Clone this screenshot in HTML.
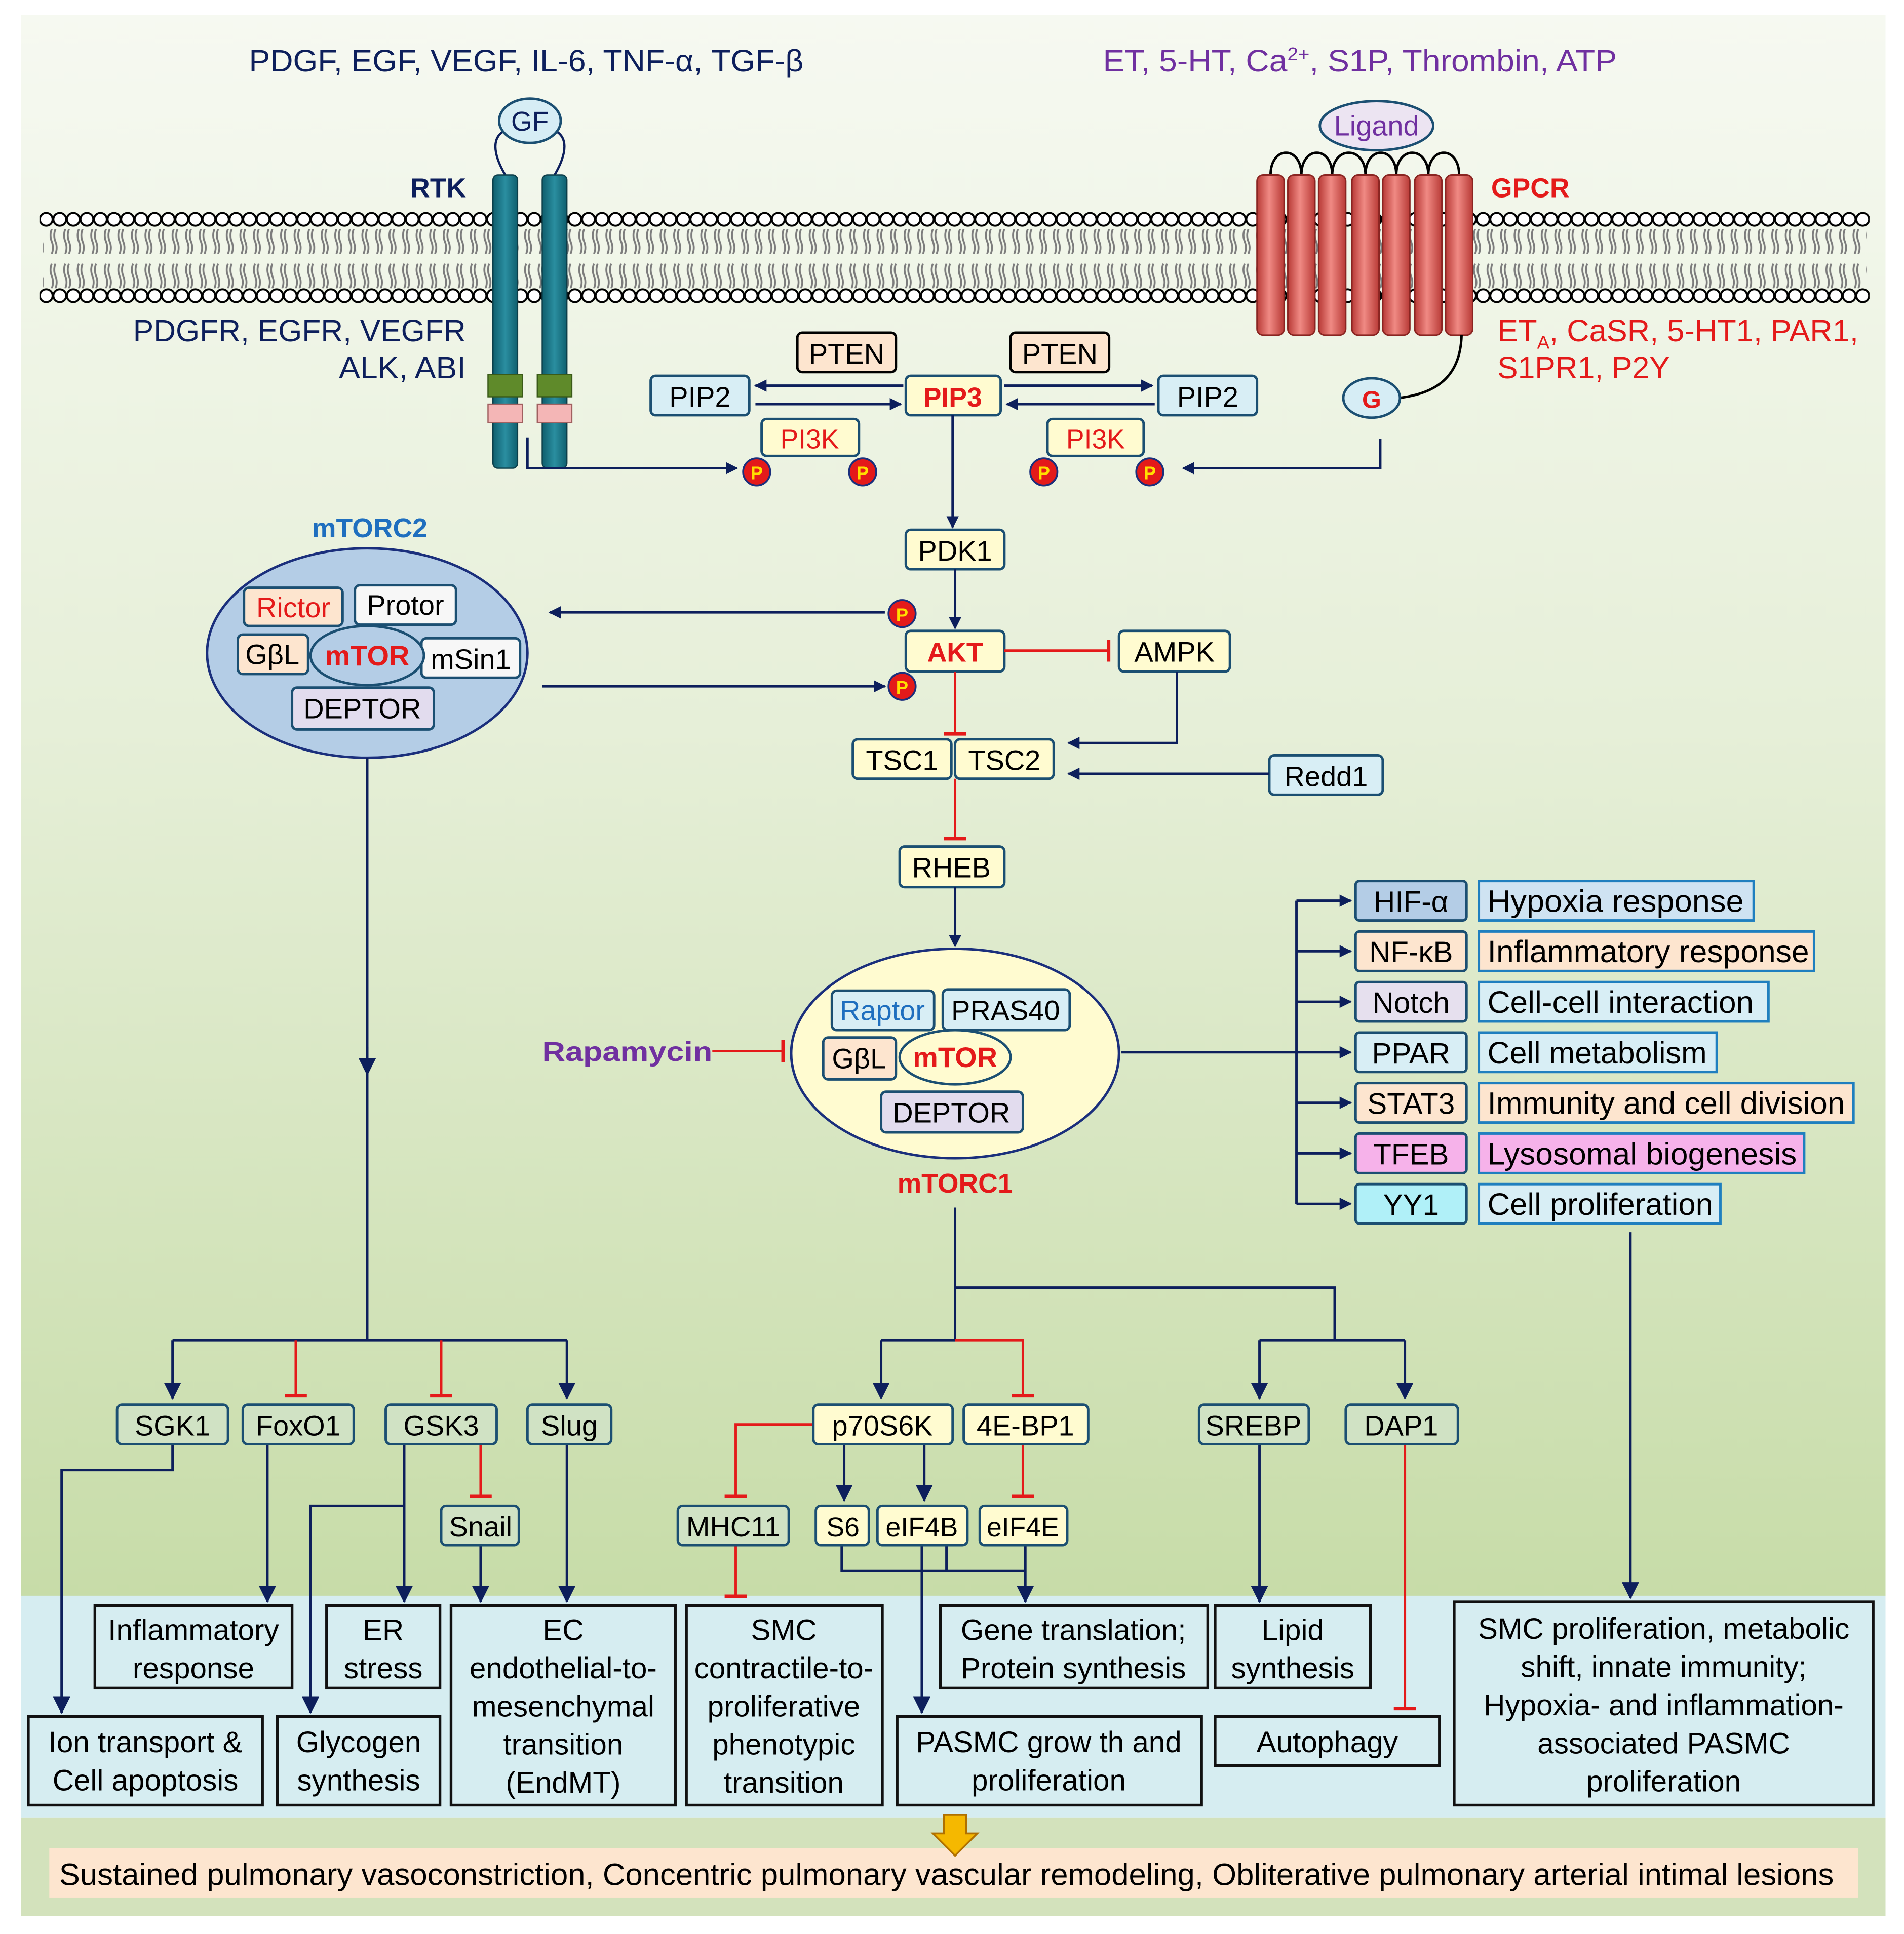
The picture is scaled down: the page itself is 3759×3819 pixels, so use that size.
<!DOCTYPE html>
<html><head><meta charset="utf-8"><style>html,body{margin:0;padding:0;background:#fff}svg{display:block}</style></head>
<body>
<svg xmlns="http://www.w3.org/2000/svg" width="3759" height="3819" viewBox="0 0 1545 1569.6" preserveAspectRatio="none" font-family="Liberation Sans, Arial, sans-serif">
<defs>
<linearGradient id="bg" x1="0" y1="0" x2="0" y2="1">
<stop offset="0" stop-color="#f6f9f1"/><stop offset="0.45" stop-color="#e6efd8"/><stop offset="1" stop-color="#c7dca8"/></linearGradient>
<linearGradient id="cyl" x1="0" y1="0" x2="1" y2="0">
<stop offset="0" stop-color="#b83a36"/><stop offset="0.45" stop-color="#f08a84"/><stop offset="1" stop-color="#b83a36"/></linearGradient>
<linearGradient id="rtk" x1="0" y1="0" x2="1" y2="0">
<stop offset="0" stop-color="#0f5f6e"/><stop offset="0.5" stop-color="#2a8ea0"/><stop offset="1" stop-color="#0f5f6e"/></linearGradient>
<marker id="a" markerWidth="10" markerHeight="10" refX="9" refY="5" orient="auto" markerUnits="userSpaceOnUse" viewBox="0 0 10 10"><path d="M0,0 L10,5 L0,10 z" fill="#0d1f5c"/></marker>
<marker id="ab" markerWidth="14" markerHeight="14" refX="13" refY="7" orient="auto" markerUnits="userSpaceOnUse" viewBox="0 0 14 14"><path d="M0,0 L14,7 L0,14 z" fill="#0d1f5c"/></marker>
<marker id="t" markerWidth="4" markerHeight="18" refX="2" refY="9" orient="auto" markerUnits="userSpaceOnUse" viewBox="0 0 4 18"><rect x="0" y="0" width="3" height="18" fill="#e41a1a"/></marker>
<pattern id="tailpat" x="38" y="186" width="11" height="48" patternUnits="userSpaceOnUse">
<path d="M4,0 q-2,5 0,10 q2,5 0,10 M7,0 q-2,5 0,10 q2,5 0,10 M4,28 q-2,5 0,10 q2,5 0,10 M7,28 q-2,5 0,10 q2,5 0,10" stroke="#7c7c7c" stroke-width="1.5" fill="none"/>
</pattern>
<pattern id="toprow" x="32" y="171" width="11" height="14" patternUnits="userSpaceOnUse">
<circle cx="5.5" cy="7" r="5.2" fill="#fff" stroke="#000" stroke-width="1.6"/>
</pattern>
<pattern id="botrow" x="32" y="233" width="11" height="14" patternUnits="userSpaceOnUse">
<circle cx="5.5" cy="7" r="5.2" fill="#fff" stroke="#000" stroke-width="1.6"/>
</pattern>
</defs>
<rect width="1545" height="1570" fill="#fff"/>
<rect x="17" y="12" width="1513" height="1285" fill="url(#bg)"/>
<rect x="17" y="1295" width="1513" height="180" fill="#d6edf1"/>
<rect x="17" y="1475" width="1513" height="80" fill="#d3e2bc"/>
<rect x="40" y="1500" width="1468" height="40" fill="#fde5cf"/>

<rect x="35" y="186" width="1480" height="48" fill="url(#tailpat)"/>
<rect x="32" y="171" width="1485" height="14" fill="url(#toprow)"/>
<rect x="32" y="233" width="1485" height="14" fill="url(#botrow)"/>

<text x="202" y="58" font-size="25" fill="#0d1f5c" textLength="450" lengthAdjust="spacingAndGlyphs">PDGF,  EGF,  VEGF, IL-6, TNF-α,  TGF-β</text>
<text x="895" y="58" font-size="25" fill="#7030a0" textLength="417" lengthAdjust="spacingAndGlyphs">ET,  5-HT, Ca<tspan font-size="15" dy="-9">2+</tspan><tspan dy="9">, S1P, Thrombin,  ATP</tspan></text>

<!-- RTK -->
<path d="M410,142 C400,125 398,110 412,105 M450,142 C460,125 462,110 448,105" stroke="#0d1f5c" stroke-width="1.8" fill="none"/>
<ellipse cx="430" cy="98" rx="25" ry="18" fill="#d6edf5" stroke="#1b4f72" stroke-width="2"/>
<text x="430" y="106" font-size="22" text-anchor="middle" fill="#0d1f5c">GF</text>
<rect x="400" y="142" width="20" height="238" rx="4" fill="url(#rtk)" stroke="#0d3f4a"/>
<rect x="440" y="142" width="20" height="238" rx="4" fill="url(#rtk)" stroke="#0d3f4a"/>
<rect x="396" y="304" width="28" height="18" fill="#5f8a2a" stroke="#3a5a18"/>
<rect x="436" y="304" width="28" height="18" fill="#5f8a2a" stroke="#3a5a18"/>
<rect x="396" y="328" width="28" height="15" fill="#f4b6b6" stroke="#a06060"/>
<rect x="436" y="328" width="28" height="15" fill="#f4b6b6" stroke="#a06060"/>
<text x="333" y="160" font-size="22" font-weight="bold" fill="#0d1f5c">RTK</text>
<text x="108" y="277" font-size="25" fill="#0d1f5c" textLength="270" lengthAdjust="spacingAndGlyphs">PDGFR,  EGFR,  VEGFR</text>
<text x="275" y="307" font-size="25" fill="#0d1f5c" textLength="103" lengthAdjust="spacingAndGlyphs">ALK, ABI</text>

<!-- GPCR -->
<path d="M1031,142 C1031,118 1056,118 1056,142 M1056,142 C1056,118 1081,118 1081,142 M1081,142 C1081,118 1108,118 1108,142 M1108,142 C1108,118 1133,118 1133,142 M1133,142 C1133,118 1159,118 1159,142 M1159,142 C1159,118 1184,118 1184,142" stroke="#000" stroke-width="2" fill="none"/>
<g fill="url(#cyl)" stroke="#8a2522" stroke-width="1.2">
<rect x="1020" y="142" width="22" height="130" rx="5"/>
<rect x="1045" y="142" width="22" height="130" rx="5"/>
<rect x="1070" y="142" width="22" height="130" rx="5"/>
<rect x="1097" y="142" width="22" height="130" rx="5"/>
<rect x="1122" y="142" width="22" height="130" rx="5"/>
<rect x="1148" y="142" width="22" height="130" rx="5"/>
<rect x="1173" y="142" width="22" height="130" rx="5"/>
</g>
<ellipse cx="1117" cy="102" rx="46" ry="20" fill="#ece4f2" stroke="#1b4f72" stroke-width="2"/>
<text x="1117" y="110" font-size="23" text-anchor="middle" fill="#7030a0">Ligand</text>
<text x="1210" y="160" font-size="22" font-weight="bold" fill="#e41a1a">GPCR</text>
<text x="1215" y="277" font-size="25" fill="#e41a1a" textLength="293" lengthAdjust="spacingAndGlyphs">ET<tspan font-size="15" dy="6">A</tspan><tspan dy="-6">,  CaSR,  5-HT1,  PAR1,</tspan></text>
<text x="1215" y="307" font-size="25" fill="#e41a1a" textLength="140" lengthAdjust="spacingAndGlyphs">S1PR1,  P2Y</text>
<path d="M1135,323 C1160,320 1185,310 1186,272" stroke="#000" stroke-width="2" fill="none"/>
<ellipse cx="1113" cy="323" rx="23" ry="16" fill="#d6edf5" stroke="#1b4f72" stroke-width="2"/>
<text x="1113" y="331" font-size="20" font-weight="bold" text-anchor="middle" fill="#e41a1a">G</text>

<g stroke="#1b4f72" stroke-width="2">
<rect x="647" y="270" width="80" height="32" rx="4" fill="#fde5cf" stroke="#000"/>
<rect x="820" y="270" width="80" height="32" rx="4" fill="#fde5cf" stroke="#000"/>
<rect x="528" y="305" width="80" height="32" rx="4" fill="#d8eef5"/>
<rect x="940" y="305" width="80" height="32" rx="4" fill="#d8eef5"/>
<rect x="735" y="305" width="77" height="32" rx="4" fill="#fffbd0"/>
<rect x="618" y="340" width="79" height="30" rx="4" fill="#fffbd0"/>
<rect x="850" y="340" width="78" height="30" rx="4" fill="#fffbd0"/>
<rect x="735" y="430" width="80" height="32" rx="4" fill="#fffbd0"/>
<rect x="735" y="512" width="80" height="33" rx="4" fill="#fffbd0"/>
<rect x="908" y="512" width="90" height="33" rx="4" fill="#fffbd0"/>
<rect x="692" y="600" width="80" height="32" rx="4" fill="#fffbd0"/>
<rect x="775" y="600" width="80" height="32" rx="4" fill="#fffbd0"/>
<rect x="1030" y="613" width="92" height="32" rx="4" fill="#d8eef5"/>
<rect x="730" y="687" width="85" height="33" rx="4" fill="#fffbd0"/>
</g>
<g font-size="23" fill="#000" text-anchor="middle">
<text x="687" y="295">PTEN</text><text x="860" y="295">PTEN</text>
<text x="568" y="330">PIP2</text><text x="980" y="330">PIP2</text>
<text x="773" y="330" fill="#e41a1a" font-weight="bold" font-size="22">PIP3</text>
<text x="657" y="364" fill="#e41a1a" font-size="22">PI3K</text><text x="889" y="364" fill="#e41a1a" font-size="22">PI3K</text>
<text x="775" y="455">PDK1</text>
<text x="775" y="537" fill="#e41a1a" font-weight="bold" font-size="22">AKT</text>
<text x="953" y="537">AMPK</text>
<text x="732" y="625">TSC1</text><text x="815" y="625">TSC2</text>
<text x="1076" y="638">Redd1</text>
<text x="772" y="712">RHEB</text>
</g>
<g fill="#e41a1a" stroke="#1b2f7c" stroke-width="1.5">
<circle cx="614" cy="383" r="11"/><circle cx="700" cy="383" r="11"/><circle cx="847" cy="383" r="11"/><circle cx="933" cy="383" r="11"/><circle cx="732" cy="498" r="11"/><circle cx="732" cy="557" r="11"/>
</g>
<g fill="#ffe000" font-size="15" font-weight="bold" text-anchor="middle">
<text x="614" y="389">P</text><text x="700" y="389">P</text><text x="847" y="389">P</text><text x="933" y="389">P</text><text x="732" y="504">P</text><text x="732" y="563">P</text>
</g>

<g stroke="#0d1f5c" stroke-width="2" fill="none">
<path d="M733,313 H613" marker-end="url(#a)"/>
<path d="M613,328 H731" marker-end="url(#a)"/>
<path d="M815,313 H935" marker-end="url(#a)"/>
<path d="M937,328 H817" marker-end="url(#a)"/>
<path d="M428,355 V380 H598" marker-end="url(#a)"/>
<path d="M1120,356 V380 H960" marker-end="url(#a)"/>
<path d="M773,337 V428" marker-end="url(#a)"/>
<path d="M775,462 V510" marker-end="url(#a)"/>
<path d="M955,545 V603 H867" marker-end="url(#a)"/>
<path d="M1030,628 H867" marker-end="url(#a)"/>
<path d="M775,720 V768" marker-end="url(#a)"/>
<path d="M718,497 H446" marker-end="url(#a)"/>
<path d="M440,557 H718" marker-end="url(#a)"/>
</g>
<g stroke="#e41a1a" stroke-width="2" fill="none">
<path d="M815,528 H900" marker-end="url(#t)"/>
<path d="M775,545 V596" marker-end="url(#t)"/>
<path d="M775,632 V681" marker-end="url(#t)"/>
<path d="M578,853 H636" marker-end="url(#t)"/>
</g>

<text x="300" y="436" font-size="22" font-weight="bold" fill="#1f6fbf" text-anchor="middle">mTORC2</text>
<ellipse cx="298" cy="530" rx="130" ry="85" fill="#b4cde6" stroke="#1b2f7c" stroke-width="2"/>
<g stroke="#1b4f72" stroke-width="2">
<rect x="198" y="477" width="80" height="31" rx="4" fill="#fde5cf"/>
<rect x="288" y="475" width="82" height="32" rx="4" fill="#f7f7f7"/>
<rect x="193" y="515" width="57" height="32" rx="4" fill="#fde5cf"/>
<rect x="342" y="518" width="80" height="32" rx="4" fill="#f7f7f7"/>
<rect x="237" y="558" width="115" height="34" rx="4" fill="#e2dcee"/>
<ellipse cx="298" cy="532" rx="46" ry="24" fill="#b4cde6"/>
</g>
<g font-size="23" text-anchor="middle">
<text x="238" y="501" fill="#e41a1a">Rictor</text>
<text x="329" y="499">Protor</text>
<text x="221" y="539">GβL</text>
<text x="382" y="543">mSin1</text>
<text x="294" y="583">DEPTOR</text>
<text x="298" y="540" fill="#e41a1a" font-weight="bold" font-size="23">mTOR</text>
</g>

<ellipse cx="775" cy="855" rx="133" ry="85" fill="#fffbd0" stroke="#1b2f7c" stroke-width="2"/>
<g stroke="#1b4f72" stroke-width="2">
<rect x="675" y="804" width="83" height="32" rx="4" fill="#d8eef5"/>
<rect x="765" y="803" width="103" height="33" rx="4" fill="#d8eef5"/>
<rect x="668" y="842" width="59" height="34" rx="4" fill="#fde5cf"/>
<rect x="715" y="886" width="115" height="33" rx="4" fill="#e2dcee"/>
<ellipse cx="775" cy="858" rx="45" ry="22" fill="#fffbd0"/>
</g>
<g font-size="23" text-anchor="middle">
<text x="716" y="828" fill="#1f6fbf">Raptor</text>
<text x="816" y="828">PRAS40</text>
<text x="697" y="867">GβL</text>
<text x="772" y="911">DEPTOR</text>
<text x="775" y="866" fill="#e41a1a" font-weight="bold" font-size="23">mTOR</text>
</g>
<text x="775" y="968" font-size="22" font-weight="bold" fill="#e41a1a" text-anchor="middle">mTORC1</text>
<text x="440" y="861" font-size="22" font-weight="bold" fill="#7030a0" textLength="138" lengthAdjust="spacingAndGlyphs">Rapamycin</text>

<g stroke="#0d1f5c" stroke-width="2" fill="none">
<path d="M910,854 H1096" marker-end="url(#a)"/>
<path d="M1052,731 V977"/>
<path d="M1052,731 H1096" marker-end="url(#a)"/>
<path d="M1052,772 H1096" marker-end="url(#a)"/>
<path d="M1052,813 H1096" marker-end="url(#a)"/>
<path d="M1052,895 H1096" marker-end="url(#a)"/>
<path d="M1052,936 H1096" marker-end="url(#a)"/>
<path d="M1052,977 H1096" marker-end="url(#a)"/>
</g>
<g stroke="#1f7fbf" stroke-width="2">
<rect x="1100" y="715" width="90" height="32" rx="3" fill="#b4cde6" stroke="#1b4f72"/>
<rect x="1100" y="756" width="90" height="32" rx="3" fill="#fde5cf" stroke="#1b4f72"/>
<rect x="1100" y="797" width="90" height="32" rx="3" fill="#e6e0ee" stroke="#1b4f72"/>
<rect x="1100" y="838" width="90" height="32" rx="3" fill="#d8eef5" stroke="#1b4f72"/>
<rect x="1100" y="879" width="90" height="32" rx="3" fill="#fde5cf" stroke="#1b4f72"/>
<rect x="1100" y="920" width="90" height="32" rx="3" fill="#f6b2ea" stroke="#1b4f72"/>
<rect x="1100" y="961" width="90" height="32" rx="3" fill="#b0f0f8" stroke="#1b4f72"/>
<rect x="1200" y="715" width="223" height="32" fill="#cfe3f2"/>
<rect x="1200" y="756" width="272" height="32" fill="#fde5cf"/>
<rect x="1200" y="797" width="235" height="32" fill="#d8eef5"/>
<rect x="1200" y="838" width="193" height="32" fill="#d8eef5"/>
<rect x="1200" y="879" width="304" height="32" fill="#fde5cf"/>
<rect x="1200" y="920" width="264" height="32" fill="#f6b2ea"/>
<rect x="1200" y="961" width="196" height="32" fill="#d8eef5"/>
</g>
<g font-size="25">
<g text-anchor="middle" font-size="24">
<text x="1145" y="740">HIF-α</text><text x="1145" y="781">NF-κB</text><text x="1145" y="822">Notch</text><text x="1145" y="863">PPAR</text><text x="1145" y="904">STAT3</text><text x="1145" y="945">TFEB</text><text x="1145" y="986">YY1</text>
</g>
<text x="1207" y="740" textLength="208" lengthAdjust="spacingAndGlyphs">Hypoxia response</text>
<text x="1207" y="781" textLength="261" lengthAdjust="spacingAndGlyphs">Inflammatory  response</text>
<text x="1207" y="822" textLength="216" lengthAdjust="spacingAndGlyphs">Cell-cell interaction</text>
<text x="1207" y="863" textLength="178" lengthAdjust="spacingAndGlyphs">Cell metabolism</text>
<text x="1207" y="904" textLength="290" lengthAdjust="spacingAndGlyphs">Immunity  and cell division</text>
<text x="1207" y="945" textLength="251" lengthAdjust="spacingAndGlyphs">Lysosomal biogenesis</text>
<text x="1207" y="986" textLength="183" lengthAdjust="spacingAndGlyphs">Cell proliferation</text>
</g>

<g stroke="#0d1f5c" stroke-width="2" fill="none">
<path d="M298,615 V1088"/>
<path d="M298,850 V872" marker-end="url(#ab)"/>
<path d="M140,1088 H460"/>
<path d="M140,1088 V1135" marker-end="url(#ab)"/>
<path d="M460,1088 V1135" marker-end="url(#ab)"/>
<path d="M775,980 V1088"/>
<path d="M775,1045 H1083 V1088"/>
<path d="M715,1088 H775"/>
<path d="M715,1088 V1135" marker-end="url(#ab)"/>
<path d="M1022,1088 H1140"/>
<path d="M1022,1088 V1135" marker-end="url(#ab)"/>
<path d="M1140,1088 V1135" marker-end="url(#ab)"/>
<path d="M140,1172 V1193 H50 V1390" marker-end="url(#ab)"/>
<path d="M217,1172 V1300" marker-end="url(#ab)"/>
<path d="M328,1172 V1300" marker-end="url(#ab)"/>
<path d="M328,1222 H252 V1390" marker-end="url(#ab)"/>
<path d="M390,1254 V1300" marker-end="url(#ab)"/>
<path d="M460,1172 V1300" marker-end="url(#ab)"/>
<path d="M685,1172 V1218" marker-end="url(#ab)"/>
<path d="M750,1172 V1218" marker-end="url(#ab)"/>
<path d="M683,1254 V1275 H832"/>
<path d="M768,1254 V1275"/>
<path d="M832,1254 V1300" marker-end="url(#ab)"/>
<path d="M748,1254 V1390" marker-end="url(#ab)"/>
<path d="M1022,1172 V1300" marker-end="url(#ab)"/>
<path d="M1323,1000 V1297" marker-end="url(#ab)"/>
</g>
<g stroke="#e41a1a" stroke-width="2" fill="none">
<path d="M240,1088 V1133" marker-end="url(#t)"/>
<path d="M358,1088 V1133" marker-end="url(#t)"/>
<path d="M775,1088 H830 V1133" marker-end="url(#t)"/>
<path d="M390,1172 V1215" marker-end="url(#t)"/>
<path d="M660,1156 H597 V1215" marker-end="url(#t)"/>
<path d="M597,1254 V1296" marker-end="url(#t)"/>
<path d="M830,1172 V1215" marker-end="url(#t)"/>
<path d="M1140,1172 V1387" marker-end="url(#t)"/>
</g>

<g stroke="#1b4f72" stroke-width="2">
<rect x="95" y="1140" width="90" height="32" rx="4" fill="#d0e2c4"/>
<rect x="197" y="1140" width="90" height="32" rx="4" fill="#d0e2c4"/>
<rect x="313" y="1140" width="90" height="32" rx="4" fill="#d0e2c4"/>
<rect x="428" y="1140" width="68" height="32" rx="4" fill="#d0e2c4"/>
<rect x="358" y="1222" width="63" height="32" rx="4" fill="#d0e2c4"/>
<rect x="660" y="1140" width="113" height="32" rx="4" fill="#fffbd0"/>
<rect x="782" y="1140" width="101" height="32" rx="4" fill="#fffbd0"/>
<rect x="973" y="1140" width="89" height="32" rx="4" fill="#d0e2c4"/>
<rect x="1092" y="1140" width="91" height="32" rx="4" fill="#d0e2c4"/>
<rect x="550" y="1222" width="90" height="32" rx="4" fill="#d0e2c4"/>
<rect x="662" y="1222" width="43" height="32" rx="4" fill="#fffbd0"/>
<rect x="712" y="1222" width="73" height="32" rx="4" fill="#fffbd0"/>
<rect x="795" y="1222" width="71" height="32" rx="4" fill="#fffbd0"/>
</g>
<g font-size="23" text-anchor="middle">
<text x="140" y="1165">SGK1</text><text x="242" y="1165">FoxO1</text><text x="358" y="1165">GSK3</text><text x="462" y="1165">Slug</text>
<text x="390" y="1247">Snail</text>
<text x="716" y="1165">p70S6K</text><text x="832" y="1165">4E-BP1</text>
<text x="1017" y="1165">SREBP</text><text x="1137" y="1165">DAP1</text>
<text x="595" y="1247">MHC11</text><text x="684" y="1247" font-size="22">S6</text><text x="748" y="1247" font-size="22">eIF4B</text><text x="830" y="1247" font-size="22">eIF4E</text>
</g>

<g stroke="#111" stroke-width="2.2" fill="#d6edf1">
<rect x="77" y="1303" width="160" height="67"/>
<rect x="265" y="1303" width="92" height="67"/>
<rect x="366" y="1303" width="182" height="162"/>
<rect x="557" y="1303" width="159" height="162"/>
<rect x="763" y="1303" width="217" height="67"/>
<rect x="986" y="1303" width="126" height="67"/>
<rect x="1180" y="1300" width="340" height="165"/>
<rect x="23" y="1393" width="190" height="72"/>
<rect x="225" y="1393" width="132" height="72"/>
<rect x="728" y="1393" width="247" height="72"/>
<rect x="986" y="1393" width="182" height="40"/>
</g>
<g font-size="24" text-anchor="middle">
<text x="157" y="1331">Inflammatory</text><text x="157" y="1362">response</text>
<text x="311" y="1331">ER</text><text x="311" y="1362">stress</text>
<text x="457" y="1331">EC</text><text x="457" y="1362">endothelial-to-</text><text x="457" y="1393">mesenchymal</text><text x="457" y="1424">transition</text><text x="457" y="1455">(EndMT)</text>
<text x="636" y="1331">SMC</text><text x="636" y="1362">contractile-to-</text><text x="636" y="1393">proliferative</text><text x="636" y="1424">phenotypic</text><text x="636" y="1455">transition</text>
<text x="871" y="1331">Gene translation;</text><text x="871" y="1362">Protein synthesis</text>
<text x="1049" y="1331">Lipid</text><text x="1049" y="1362">synthesis</text>
<text x="1350" y="1330">SMC proliferation, metabolic</text><text x="1350" y="1361">shift, innate immunity;</text><text x="1350" y="1392">Hypoxia- and inflammation-</text><text x="1350" y="1423">associated PASMC</text><text x="1350" y="1454">proliferation</text>
<text x="118" y="1422">Ion transport &amp;</text><text x="118" y="1453">Cell apoptosis</text>
<text x="291" y="1422">Glycogen</text><text x="291" y="1453">synthesis</text>
<text x="851" y="1422">PASMC grow th and</text><text x="851" y="1453">proliferation</text>
<text x="1077" y="1422">Autophagy</text>
</g>

<path d="M766,1473 H784 V1488 H793 L775,1506 L757,1488 H766 Z" fill="#f5b800" stroke="#b07000" stroke-width="1.5"/>
<text x="48" y="1530" font-size="25" textLength="1440" lengthAdjust="spacingAndGlyphs">Sustained pulmonary vasoconstriction, Concentric pulmonary vascular remodeling, Obliterative pulmonary arterial intimal  lesions</text>
</svg>
</body></html>
